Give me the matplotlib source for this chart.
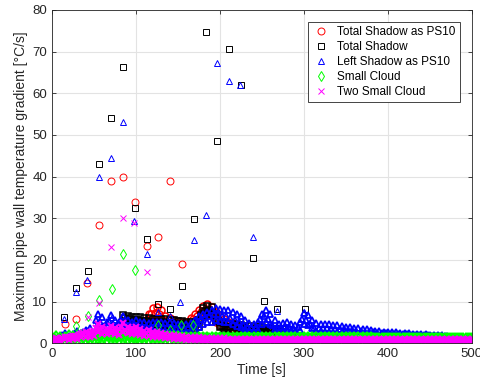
import numpy as np
import matplotlib
matplotlib.use("Agg")
import matplotlib.pyplot as plt

plt.rcParams['font.family'] = ['Liberation Sans', 'DejaVu Sans']

# ---- isolated peak values (time [s], gradient [C/s]) ----
red_x = [15.5, 28.6, 42, 56.3, 70.6, 84.5, 98.8, 112.7, 126.6, 141, 154.4]
red_y = [4.7, 5.8, 14.5, 28.4, 38.9, 40.0, 33.8, 23.4, 25.5, 39.0, 19.0]

black_x = [14.3, 28.6, 42.5, 56, 70, 84.5, 98.8, 113, 126.6, 141, 154.6, 169, 183,
           197, 211, 225, 239, 253, 267.5, 301]
black_y = [6.3, 13.3, 17.4, 43, 54, 66.3, 32.4, 24.9, 9.3, 8.3, 13.7, 29.7, 74.8,
           48.6, 70.6, 62, 20.4, 10.2, 8.1, 8.3]

blue_x = [14.3, 28.6, 42, 56.3, 70.6, 84.5, 98, 112.7, 126.6, 141, 152, 169, 183,
          197, 211, 224, 239, 267.5, 71, 300]
blue_y = [5.8, 12.3, 15.1, 39.9, 44.5, 53.2, 29.4, 21.5, 7.5, 6.5, 9.9, 24.8, 30.7,
          67.2, 63.0, 62.0, 25.5, 7.7, 6.3, 7.4]

green_x = [28.6, 42.5, 56.3, 71, 84.5, 99, 126.6, 141, 154, 168]
green_y = [4.1, 6.5, 10.3, 13.1, 21.5, 17.6, 4.3, 3.2, 4.3, 4.3]

mag_x = [42.5, 56.3, 70.6, 84.5, 98, 112.7]
mag_y = [6.3, 9.7, 23.2, 30.0, 28.9, 17.1]

# ---- dense low-level values: hi/lo rows every 5 s, mid row in between ----
green_t = np.arange(0, 501, 5)
green_hi = [1.0, 1.8, 1.6, 1.5, 1.9, 1.7, 1.6, 2.0, 1.8, 1.7,
            1.9, 2.1, 1.9, 1.8, 2.0, 1.9, 1.8, 2.0, 1.9, 1.8,
            1.8, 1.8, 1.7, 1.8, 1.7, 1.7, 1.7, 1.7, 1.7, 1.7,
            1.7, 1.6, 1.6, 1.6, 1.6, 1.6, 1.6, 1.6, 1.6, 1.6,
            1.6, 1.5, 1.5, 1.5, 1.5, 1.5, 1.5, 1.5, 1.5, 1.5,
            1.5, 1.5, 1.5, 1.5, 1.5, 1.4, 1.4, 1.4, 1.4, 1.4,
            1.4, 1.4, 1.4, 1.4, 1.4, 1.4, 1.4, 1.4, 1.4, 1.4,
            1.4, 1.4, 1.4, 1.4, 1.4, 1.4, 1.4, 1.3, 1.3, 1.3,
            1.3, 1.3, 1.3, 1.3, 1.3, 1.3, 1.3, 1.3, 1.3, 1.3,
            1.3, 1.3, 1.3, 1.3, 1.3, 1.3, 1.3, 1.3, 1.3, 1.3,
            1.3]
green_lo = [0.2, 0.6, 0.4, 0.3, 0.7, 0.5, 0.4, 0.8, 0.6, 0.5,
            0.7, 0.9, 0.7, 0.6, 0.8, 0.7, 0.6, 0.8, 0.7, 0.6,
            0.5, 0.4, 0.4, 0.3, 0.3, 0.3, 0.3, 0.2, 0.2, 0.2,
            0.2, 0.2, 0.2, 0.2, 0.2, 0.2, 0.2, 0.2, 0.2, 0.2,
            0.2, 0.2, 0.2, 0.2, 0.2, 0.1, 0.1, 0.1, 0.1, 0.1,
            0.1, 0.1, 0.1, 0.1, 0.1, 0.1, 0.1, 0.1, 0.1, 0.1,
            0.1, 0.1, 0.1, 0.1, 0.1, 0.1, 0.1, 0.1, 0.1, 0.1,
            0.1, 0.1, 0.1, 0.1, 0.1, 0.1, 0.1, 0.1, 0.1, 0.1,
            0.1, 0.1, 0.1, 0.1, 0.1, 0.1, 0.1, 0.1, 0.1, 0.1,
            0.1, 0.1, 0.1, 0.1, 0.1, 0.1, 0.1, 0.1, 0.1, 0.1,
            0.1]
green_tm = np.arange(2.5, 500, 5)
green_mid = [1.2, 1.0, 0.9, 1.3, 1.1, 1.0, 1.4, 1.2, 1.1, 1.3,
             1.5, 1.3, 1.2, 1.4, 1.3, 1.2, 1.4, 1.3, 1.2, 1.1,
             1.3, 1.3, 1.3, 1.3, 1.3, 1.3, 1.3, 1.3, 1.3, 1.3,
             1.3, 1.3, 1.3, 1.3, 1.3, 1.3, 1.3, 1.3, 1.3, 1.3,
             1.3, 1.3, 1.3, 1.3, 1.3, 1.3, 1.3, 1.3, 1.3, 1.3,
             1.3, 1.3, 1.3, 1.3, 1.3, 1.3, 1.3, 1.3, 1.3, 1.3,
             1.2, 1.2, 1.2, 1.2, 1.2, 1.2, 1.2, 1.2, 1.2, 1.2,
             1.2, 1.2, 1.2, 1.2, 1.2, 1.2, 1.2, 1.2, 1.2, 1.2,
             1.2, 1.2, 1.2, 1.2, 1.2, 1.2, 1.2, 1.2, 1.2, 1.2,
             1.2, 1.2, 1.2, 1.2, 1.2, 1.2, 1.2, 1.2, 1.2, 1.2]

mag_t = np.arange(0, 501, 5)
mag_hi = [0.5, 1.2, 1.0, 1.5, 1.3, 1.8, 1.6, 2.3, 2.8, 2.4,
          3.0, 4.5, 3.8, 3.5, 4.2, 3.6, 3.3, 4.8, 4.0, 3.6,
          3.8, 3.3, 3.0, 3.2, 2.8, 2.6, 2.4, 2.2, 2.0, 1.9,
          1.8, 1.7, 1.6, 1.5, 1.4, 1.4, 1.3, 1.3, 1.2, 1.2,
          1.2, 1.2, 1.1, 1.1, 1.1, 1.1, 1.1, 1.1, 1.1, 1.1,
          1.1, 1.1, 1.1, 1.0, 1.0, 1.0, 1.0, 1.0, 1.0, 1.0,
          1.0, 1.0, 1.0, 1.0, 1.0, 1.0, 1.0, 1.0, 1.0, 1.0,
          1.0, 1.0, 1.0, 1.0, 1.0, 1.0, 1.0, 1.0, 1.0, 1.0,
          1.0, 1.0, 1.0, 1.0, 1.0, 1.0, 1.0, 1.0, 1.0, 1.0,
          1.0, 1.0, 1.0, 1.0, 1.0, 1.0, 1.0, 1.0, 1.0, 1.0,
          1.0]
mag_lo = [0.3, 0.7, 0.6, 0.9, 0.8, 1.1, 1.0, 1.4, 1.6, 1.4,
          1.8, 2.6, 2.3, 2.1, 2.5, 2.2, 2.0, 2.8, 2.4, 2.2,
          2.2, 2.0, 1.8, 1.8, 1.6, 1.5, 1.4, 1.3, 1.2, 1.1,
          1.0, 0.9, 0.8, 0.8, 0.7, 0.7, 0.6, 0.6, 0.6, 0.6,
          0.6, 0.5, 0.5, 0.5, 0.5, 0.5, 0.5, 0.5, 0.5, 0.5,
          0.5, 0.5, 0.5, 0.5, 0.5, 0.5, 0.5, 0.5, 0.5, 0.5,
          0.5, 0.5, 0.5, 0.5, 0.5, 0.5, 0.5, 0.5, 0.5, 0.5,
          0.5, 0.5, 0.5, 0.5, 0.5, 0.5, 0.5, 0.5, 0.5, 0.5,
          0.5, 0.5, 0.5, 0.5, 0.5, 0.5, 0.5, 0.5, 0.5, 0.5,
          0.5, 0.5, 0.5, 0.5, 0.5, 0.5, 0.5, 0.5, 0.5, 0.5,
          0.5]
mag_tm = np.arange(2.5, 500, 5)
mag_mid = [0.8, 1.1, 1.2, 1.4, 1.5, 1.7, 1.9, 2.4, 2.2, 2.6,
           3.6, 3.4, 2.8, 3.2, 3.0, 2.6, 3.8, 3.2, 2.8, 3.0,
           2.6, 2.4, 2.4, 2.2, 2.0, 1.9, 1.8, 1.6, 1.5, 1.4,
           1.3, 1.2, 1.1, 1.0, 1.0, 0.9, 0.9, 0.9, 0.8, 0.8,
           0.8, 0.8, 0.8, 0.8, 0.8, 0.8, 0.8, 0.8, 0.8, 0.8,
           0.8, 0.8, 0.8, 0.8, 0.8, 0.8, 0.8, 0.8, 0.8, 0.8,
           0.75, 0.75, 0.75, 0.75, 0.75, 0.75, 0.75, 0.75, 0.75, 0.75,
           0.75, 0.75, 0.75, 0.75, 0.75, 0.75, 0.75, 0.75, 0.75, 0.75,
           0.75, 0.75, 0.75, 0.75, 0.75, 0.75, 0.75, 0.75, 0.75, 0.75,
           0.75, 0.75, 0.75, 0.75, 0.75, 0.75, 0.75, 0.75, 0.75, 0.75]

blue_t = np.arange(0, 471, 5)
blue_hi = [0.5, 1.0, 1.8, 2.4, 1.8, 2.2, 3.0, 2.4, 3.2, 3.6,
           2.8, 7.0, 6.2, 5.0, 6.8, 5.6, 5.0, 6.6, 5.6, 5.2,
           5.6, 5.2, 5.0, 4.8, 5.0, 5.2, 5.0, 4.8, 5.0, 4.8,
           4.6, 4.4, 4.5, 4.8, 5.5, 6.5, 7.0, 7.5, 8.0, 8.5,
           8.2, 8.0, 8.0, 7.5, 7.0, 6.5, 5.5, 4.8, 4.5, 5.0,
           7.0, 8.0, 7.0, 5.5, 4.6, 4.8, 5.0, 4.6, 4.4, 5.0,
           7.2, 6.8, 5.5, 4.8, 4.6, 4.5, 4.5, 4.4, 4.3, 4.2,
           4.0, 3.8, 3.7, 3.6, 3.4, 3.3, 3.2, 3.0, 2.9, 2.8,
           2.7, 2.6, 2.6, 2.5, 2.4, 2.4, 2.3, 2.2, 2.2, 2.1,
           2.0, 2.0, 1.9, 1.9, 1.8]
blue_lo = [0.3, 0.6, 1.0, 1.4, 1.2, 1.4, 1.8, 1.6, 2.0, 2.2,
           1.8, 4.5, 4.0, 3.2, 4.2, 3.6, 3.2, 4.0, 3.6, 3.4,
           3.4, 3.2, 3.0, 3.0, 3.0, 3.2, 3.0, 2.9, 3.0, 2.9,
           2.8, 2.7, 2.7, 2.9, 3.2, 4.0, 4.5, 5.0, 5.2, 5.6,
           5.4, 5.2, 5.0, 4.6, 4.2, 3.8, 3.4, 3.2, 3.0, 3.2,
           4.6, 5.0, 4.5, 3.4, 3.1, 3.2, 3.3, 3.1, 3.0, 3.2,
           4.6, 4.4, 3.6, 3.0, 2.9, 2.8, 2.8, 2.7, 2.6, 2.6,
           2.5, 2.4, 2.4, 2.3, 2.2, 2.2, 2.1, 2.1, 2.0, 2.0,
           1.9, 1.9, 1.9, 1.8, 1.8, 1.8, 1.7, 1.7, 1.7, 1.7,
           1.6, 1.6, 1.6, 1.5, 1.5]
blue_tm = np.arange(2.5, 470, 5)
blue_mid = [0.8, 1.4, 2.0, 1.6, 1.8, 2.4, 2.0, 2.6, 2.9, 2.3,
            5.5, 5.2, 4.2, 5.4, 4.6, 4.2, 5.4, 4.6, 4.4, 4.5,
            4.2, 4.0, 3.9, 4.0, 4.2, 4.0, 3.9, 4.0, 3.9, 3.7,
            3.6, 3.6, 3.9, 4.4, 5.2, 5.8, 6.2, 6.6, 7.0, 6.9,
            6.6, 6.6, 6.0, 5.6, 5.2, 4.4, 4.0, 3.8, 4.0, 5.8,
            6.5, 5.8, 4.4, 3.8, 4.0, 4.1, 3.8, 3.7, 4.0, 5.9,
            5.6, 4.6, 3.7, 3.7, 3.6, 3.6, 3.5, 3.4, 3.4, 3.3,
            3.2, 3.1, 3.0, 2.9, 2.8, 2.7, 2.6, 2.5, 2.4, 2.4,
            2.3, 2.2, 2.2, 2.1, 2.1, 2.0, 2.0, 1.9, 1.9, 1.9,
            1.8, 1.8, 1.7, 1.7]

black_t = np.arange(85, 276, 5)
black_hi = [6.8, 6.6, 6.4, 6.3, 6.2, 6.1, 6.0, 5.9, 5.8, 5.8,
            5.7, 5.6, 5.5, 5.4, 5.3, 5.2, 5.1, 5.0, 5.6, 8.4,
            9.0, 8.6, 7.0, 5.2, 4.8, 4.6, 4.5, 4.4, 4.3, 4.2,
            4.1, 4.0, 3.9, 3.8, 3.7, 3.6, 3.5, 3.4, 3.3]
black_lo = [5.2, 5.0, 4.9, 4.8, 4.7, 4.6, 4.5, 4.4, 4.3, 4.3,
            4.2, 4.1, 4.0, 3.9, 3.8, 3.7, 3.6, 3.5, 4.0, 6.5,
            7.2, 6.8, 5.4, 3.8, 3.5, 3.3, 3.2, 3.1, 3.0, 2.9,
            2.8, 2.7, 2.6, 2.5, 2.4, 2.3, 2.2, 2.1, 2.0]
black_tm = np.arange(87.5, 275, 5)
black_mid = [6.0, 5.8, 5.6, 5.5, 5.4, 5.3, 5.2, 5.1, 5.0, 5.0,
             4.9, 4.8, 4.7, 4.6, 4.5, 4.4, 4.3, 4.6, 6.8, 7.8,
             7.9, 6.9, 5.4, 4.2, 4.0, 3.9, 3.8, 3.7, 3.6, 3.5,
             3.4, 3.3, 3.2, 3.1, 3.0, 2.9, 2.8, 2.7]

red_t = np.arange(100, 311, 5)
red_hi = [3.5, 4.0, 5.0, 7.0, 8.5, 8.8, 8.0, 6.5, 6.0, 5.6,
          5.4, 5.2, 5.0, 6.0, 7.0, 8.0, 9.0, 9.4, 8.8, 7.5,
          6.5, 5.8, 5.2, 4.8, 4.4, 4.0, 3.6, 3.3, 3.0, 2.8,
          2.6, 2.4, 2.2, 2.1, 2.0, 1.9, 1.8, 1.8, 1.7, 1.6,
          1.6, 1.5, 1.5]
red_lo = [2.2, 2.5, 3.0, 4.5, 5.5, 6.0, 5.5, 4.5, 4.0, 3.8,
          3.6, 3.5, 3.4, 4.0, 4.8, 5.5, 6.5, 7.0, 6.5, 5.0,
          4.2, 3.8, 3.4, 3.0, 2.8, 2.6, 2.4, 2.2, 2.0, 1.9,
          1.8, 1.7, 1.6, 1.5, 1.4, 1.3, 1.2, 1.2, 1.1, 1.0,
          1.0, 0.9, 0.9]
red_tm = np.arange(102.5, 310, 5)
red_mid = [3.0, 3.6, 5.5, 7.0, 7.2, 7.0, 5.5, 5.0, 4.7, 4.5,
           4.4, 4.2, 4.8, 5.8, 6.5, 7.5, 8.0, 8.0, 6.8, 5.6,
           4.9, 4.5, 4.1, 3.7, 3.4, 3.2, 2.9, 2.6, 2.4, 2.2,
           2.1, 2.0, 1.8, 1.7, 1.6, 1.5, 1.5, 1.4, 1.3, 1.3,
           1.2, 1.2]

labels = ['Total Shadow as PS10', 'Total Shadow', 'Left Shadow as PS10',
          'Small Cloud', 'Two Small Cloud']

fig = plt.figure(figsize=(4.81, 3.83), dpi=100)
ax = fig.add_axes([0.108, 0.104, 0.873, 0.870])

ms = 5


def pts(ax, xs, ys, marker, color, label=None, mew=0.7):
    if marker == 'x':
        ax.plot(xs, ys, ls='none', marker='x', ms=ms - 0.5, mew=mew, color=color, label=label)
    else:
        ax.plot(xs, ys, ls='none', marker=marker, ms=ms, mew=mew, mfc='none', mec=color, label=label)


def band(ax, rows, marker, color, mew=1.1):
    for t, v in rows:
        pts(ax, t, v, marker, color, mew=mew)


# red
band(ax, [(red_t, red_lo), (red_tm, red_mid), (red_t, red_hi)], 'o', 'r')
pts(ax, red_x, red_y, 'o', 'r', labels[0])
# black
band(ax, [(black_t, black_lo), (black_tm, black_mid), (black_t, black_hi)], 's', 'k')
pts(ax, black_x, black_y, 's', 'k', labels[1])
# blue
band(ax, [(blue_t, blue_lo), (blue_tm, blue_mid), (blue_t, blue_hi)], '^', 'b', mew=1.3)
pts(ax, blue_x, blue_y, '^', 'b', labels[2])
# green
band(ax, [(green_t, green_lo), (green_tm, green_mid), (green_t, green_hi)], 'd', '#00ff00', mew=1.3)
pts(ax, green_x, green_y, 'd', '#00ff00', labels[3])
# magenta
band(ax, [(mag_t, mag_lo), (mag_tm, mag_mid), (mag_t, mag_hi)], 'x', '#ff00ff', mew=1.5)
pts(ax, mag_x, mag_y, 'x', '#ff00ff', labels[4])

ax.set_xlim(0, 500)
ax.set_ylim(0, 80)
ax.set_xticks([0, 100, 200, 300, 400, 500])
ax.set_yticks(range(0, 81, 10))
ax.grid(True, color='#e3e3e3', lw=0.8)
ax.set_axisbelow(True)
ax.tick_params(direction='in', top=True, right=True, length=3, width=0.6,
               labelsize=9.5, colors='#262626')
for s in ax.spines.values():
    s.set_color('#262626')
    s.set_linewidth(0.6)

ax.set_xlabel('Time [s]', fontsize=10, color='#262626', labelpad=2)
ax.set_ylabel('Maximum pipe wall temperature gradient [\u00b0C/s]', fontsize=10,
              color='#262626', labelpad=3)

leg = ax.legend(loc='upper right', bbox_to_anchor=(0.971, 0.964), borderaxespad=0,
                fontsize=8.5, fancybox=False, framealpha=1, edgecolor='#262626',
                handletextpad=0.6, labelspacing=0.25, borderpad=0.35, handlelength=1.5)
leg.get_frame().set_linewidth(0.6)

fig.savefig('out.png', dpi=100)
